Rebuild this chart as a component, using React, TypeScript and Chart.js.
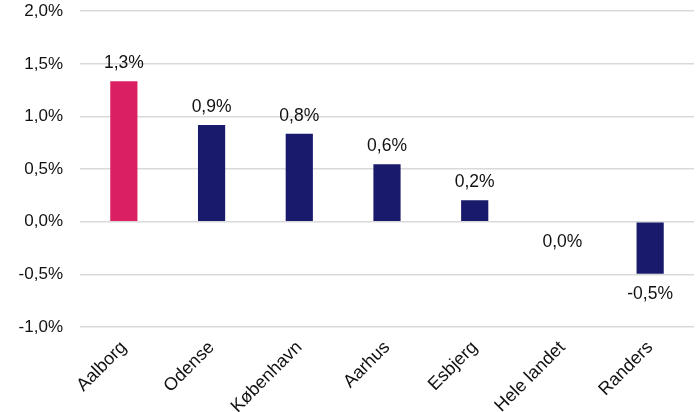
import React, { useEffect, useRef } from "react";
import { Chart, registerables } from "chart.js";

Chart.register(...registerables);

const categories = ["Aalborg", "Odense", "København", "Aarhus", "Esbjerg", "Hele landet", "Randers"];
const values = [1.335, 0.92, 0.836, 0.546, 0.205, 0.0, -0.495];
const valueLabels = ["1,3%", "0,9%", "0,8%", "0,6%", "0,2%", "0,0%", "-0,5%"];
const barColors = ["#DA1F63", "#191A6B", "#191A6B", "#191A6B", "#191A6B", "#191A6B", "#191A6B"];
const yMin = -1;
const yMax = 2;
const yStep = 0.5;

const FONT = "'Liberation Sans', Arial, sans-serif";
const SHIFT = 16;

const labelPlugin = {
  id: "valueLabels",
  afterDatasetsDraw(chart: any) {
    const ctx = chart.ctx;
    const meta = chart.getDatasetMeta(0);
    ctx.save();
    ctx.font = `17.5px ${FONT}`;
    ctx.fillStyle = "#111";
    ctx.textAlign = "center";
    ctx.textBaseline = "middle";
    meta.data.forEach((bar: any, i: number) => {
      const v = values[i];
      const y = v > 0 ? bar.y - 18 : bar.y + 20;
      ctx.fillText(valueLabels[i], bar.x, y);
    });
    ctx.restore();
  },
};

export default function App() {
  const ref = useRef<HTMLCanvasElement | null>(null);
  useEffect(() => {
    document.body.style.margin = "0";
    const chart = new Chart(ref.current!, {
      type: "bar",
      data: {
        labels: categories,
        datasets: [
          {
            data: values,
            backgroundColor: barColors,
            barPercentage: 0.31,
            categoryPercentage: 1,
          },
        ],
      },
      options: {
        animation: false,
        responsive: false,
        maintainAspectRatio: false,
        layout: { padding: { top: 0, right: 6, left: 0, bottom: 0 } },
        plugins: { legend: { display: false }, tooltip: { enabled: false } },
        scales: {
          y: {
            min: yMin,
            max: yMax,
            afterFit: (s: any) => {
              s.width = 80;
            },
            ticks: {
              stepSize: yStep,
              padding: 17,
              color: "#111",
              font: { size: 17, family: FONT },
              callback: (v: any) => Number(v).toFixed(1).replace(".", ",") + "%",
            },
            grid: { color: "#d9d9d9", lineWidth: 1.5, drawTicks: false },
            border: { display: false },
          },
          x: {
            afterFit: (s: any) => {
              s.height = 85;
            },
            ticks: {
              maxRotation: 45,
              minRotation: 45,
              color: "#111",
              padding: 2,
              font: { size: 18, family: FONT },
            },
            grid: { display: false },
            border: { display: false },
          },
        },
      },
      plugins: [labelPlugin],
    });
    return () => chart.destroy();
  }, []);
  return (
    <div style={{ width: 700, height: 412, overflow: "hidden" }}>
      <canvas
        ref={ref}
        width={700}
        height={412 + SHIFT}
        style={{ display: "block", marginTop: -SHIFT }}
      />
    </div>
  );
}
